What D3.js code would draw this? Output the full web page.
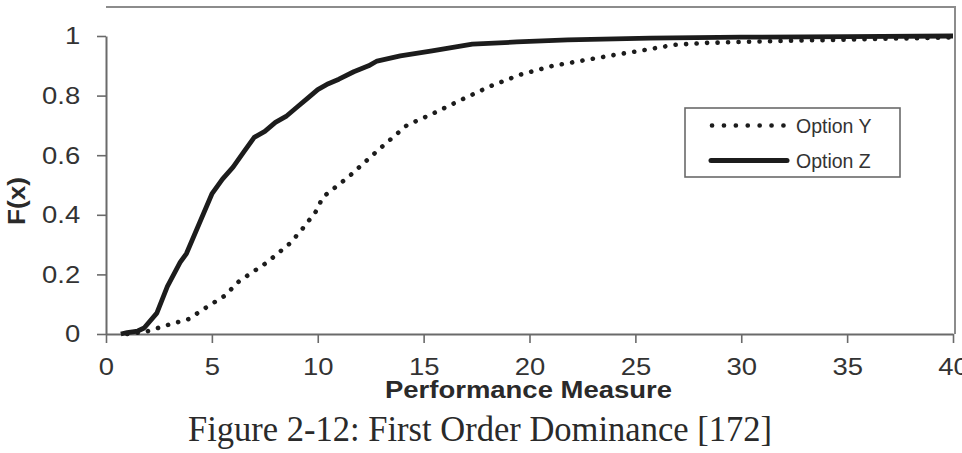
<!DOCTYPE html>
<html>
<head>
<meta charset="utf-8">
<script src="https://cdn.jsdelivr.net/npm/d3@7"></script>
<style>
  html, body { margin: 0; padding: 0; background: #fff; }
  svg { display: block; }
</style>
</head>
<body>
<svg id="chart" width="962" height="453"></svg>
<script>
// ---- Data ----
const seriesNames = ["Option Y", "Option Z"];
const optionY_x = [1.0, 1.9, 2.9, 3.9, 4.75, 5.6, 6.3, 7.6, 8.7, 9.3, 9.9, 10.25, 11.5, 12.9, 14.2, 15.45, 16.9, 18.1, 19.55, 21.1, 22.7, 24.3, 25.2, 26.8, 28.4, 30, 33, 36.2, 40];
const optionY_y = [0, 0.008, 0.03, 0.05, 0.09, 0.128, 0.178, 0.24, 0.305, 0.355, 0.41, 0.46, 0.53, 0.62, 0.70, 0.74, 0.79, 0.83, 0.87, 0.90, 0.92, 0.94, 0.95, 0.97, 0.977, 0.98, 0.985, 0.99, 0.995];
const optionZ_x = [0.7, 1.0, 1.5, 1.8, 2.4, 2.9, 3.5, 3.8, 4.4, 5.0, 5.5, 6.0, 6.5, 7.0, 7.5, 8.0, 8.5, 9.0, 9.5, 10.0, 10.5, 11.0, 11.7, 12.4, 12.8, 13.9, 15.4, 17.3, 19.4, 21.8, 25.7, 30, 35, 40];
const optionZ_y = [0, 0.005, 0.01, 0.02, 0.07, 0.16, 0.24, 0.27, 0.37, 0.47, 0.52, 0.56, 0.61, 0.66, 0.68, 0.71, 0.73, 0.76, 0.79, 0.82, 0.84, 0.855, 0.88, 0.9, 0.916, 0.933, 0.95, 0.973, 0.98, 0.987, 0.993, 0.996, 0.998, 1.0];
const xTicks = [0, 5, 10, 15, 20, 25, 30, 35, 40];
const yTicks = [0, 0.2, 0.4, 0.6, 0.8, 1];
const xTitle = "Performance Measure";
const yTitle = "F(x)";
const caption = "Figure 2-12: First Order Dominance [172]";

// ---- Layout ----
const svg = d3.select("#chart");
const L = 106, R = 953, T = 7, B = 334;
const x = d3.scaleLinear().domain([0, 40]).range([L, R]);
const y = d3.scaleLinear().domain([0, 1]).range([B, 36]);
const ink = "#1c1c1c";

svg.append("rect").attr("width", 962).attr("height", 453).attr("fill", "#fff");

// plot frame (top & right)
svg.append("path")
  .attr("d", `M${L},${T}H955V${B}`)
  .attr("fill", "none").attr("stroke", "#8c8c8c").attr("stroke-width", 2);

// axes
const xAxis = svg.append("g").attr("transform", `translate(0,${B})`)
  .call(d3.axisBottom(x).tickValues(xTicks).tickFormat(d => String(d)).tickSizeInner(9).tickSizeOuter(0).tickPadding(15));
const yAxis = svg.append("g").attr("transform", `translate(${L},0)`)
  .call(d3.axisLeft(y).tickValues(yTicks).tickFormat(d => String(d)).tickSizeInner(9).tickSizeOuter(0).tickPadding(14));

[xAxis, yAxis].forEach(g => {
  g.select(".domain").attr("stroke", "#6a6a6a").attr("stroke-width", 2);
  g.selectAll(".tick line").attr("stroke", "#6a6a6a").attr("stroke-width", 1.6);
  g.selectAll(".tick text")
    .attr("fill", "#333")
    .style("font-family", "'Liberation Sans', Arial, sans-serif")
    .style("font-size", "24.5px")
    .attr("transform", "scale(1.12,1)");
});
xAxis.selectAll(".tick text").attr("dy", "0.71em");

// lines
const line = d3.line().x(d => x(d[0])).y(d => y(d[1]));
const dataY = optionY_x.map((v, i) => [v, optionY_y[i]]);
const dataZ = optionZ_x.map((v, i) => [v, optionZ_y[i]]);

svg.append("path").datum(dataY)
  .attr("d", line).attr("fill", "none")
  .attr("stroke", ink).attr("stroke-width", 4.6)
  .attr("stroke-linecap", "round").attr("stroke-dasharray", "0.1 10.4");

svg.append("path").datum(dataZ)
  .attr("d", line).attr("fill", "none")
  .attr("stroke", ink).attr("stroke-width", 4.8)
  .attr("stroke-linejoin", "round");

// legend
const lg = svg.append("g");
lg.append("rect").attr("x", 685).attr("y", 108).attr("width", 215).attr("height", 69)
  .attr("fill", "#fff").attr("stroke", "#6a6a6a").attr("stroke-width", 1.6);
lg.append("line").attr("x1", 712).attr("x2", 784).attr("y1", 125.5).attr("y2", 125.5)
  .attr("stroke", ink).attr("stroke-width", 4.6).attr("stroke-linecap", "round").attr("stroke-dasharray", "0.1 11.8");
lg.append("line").attr("x1", 711).attr("x2", 787).attr("y1", 160.5).attr("y2", 160.5)
  .attr("stroke", ink).attr("stroke-width", 5).attr("stroke-linecap", "round");
lg.selectAll("text.lt").data(seriesNames).enter().append("text")
  .attr("x", 796).attr("y", (d, i) => 133 + i * 34.5)
  .attr("fill", "#333")
  .style("font-family", "'Liberation Sans', Arial, sans-serif")
  .style("font-size", "19.5px")
  .text(d => d);

// axis titles
svg.append("text")
  .attr("x", 528.5).attr("y", 398)
  .attr("text-anchor", "middle")
  .attr("fill", "#2a2a2a")
  .attr("textLength", 287).attr("lengthAdjust", "spacingAndGlyphs")
  .style("font-family", "'Liberation Sans', Arial, sans-serif")
  .style("font-weight", "bold").style("font-size", "23.5px")
  .text(xTitle);

svg.append("text")
  .attr("transform", "translate(25,201) rotate(-90)")
  .attr("text-anchor", "middle")
  .attr("fill", "#2a2a2a")
  .attr("textLength", 48).attr("lengthAdjust", "spacingAndGlyphs")
  .style("font-family", "'Liberation Sans', Arial, sans-serif")
  .style("font-weight", "bold").style("font-size", "24px")
  .text(yTitle);

// caption
svg.append("text")
  .attr("x", 480).attr("y", 441)
  .attr("text-anchor", "middle")
  .attr("fill", "#2a2a2a")
  .attr("textLength", 584).attr("lengthAdjust", "spacingAndGlyphs")
  .style("font-family", "'Liberation Serif', 'Times New Roman', serif")
  .style("font-size", "35px")
  .text(caption);
</script>
</body>
</html>
